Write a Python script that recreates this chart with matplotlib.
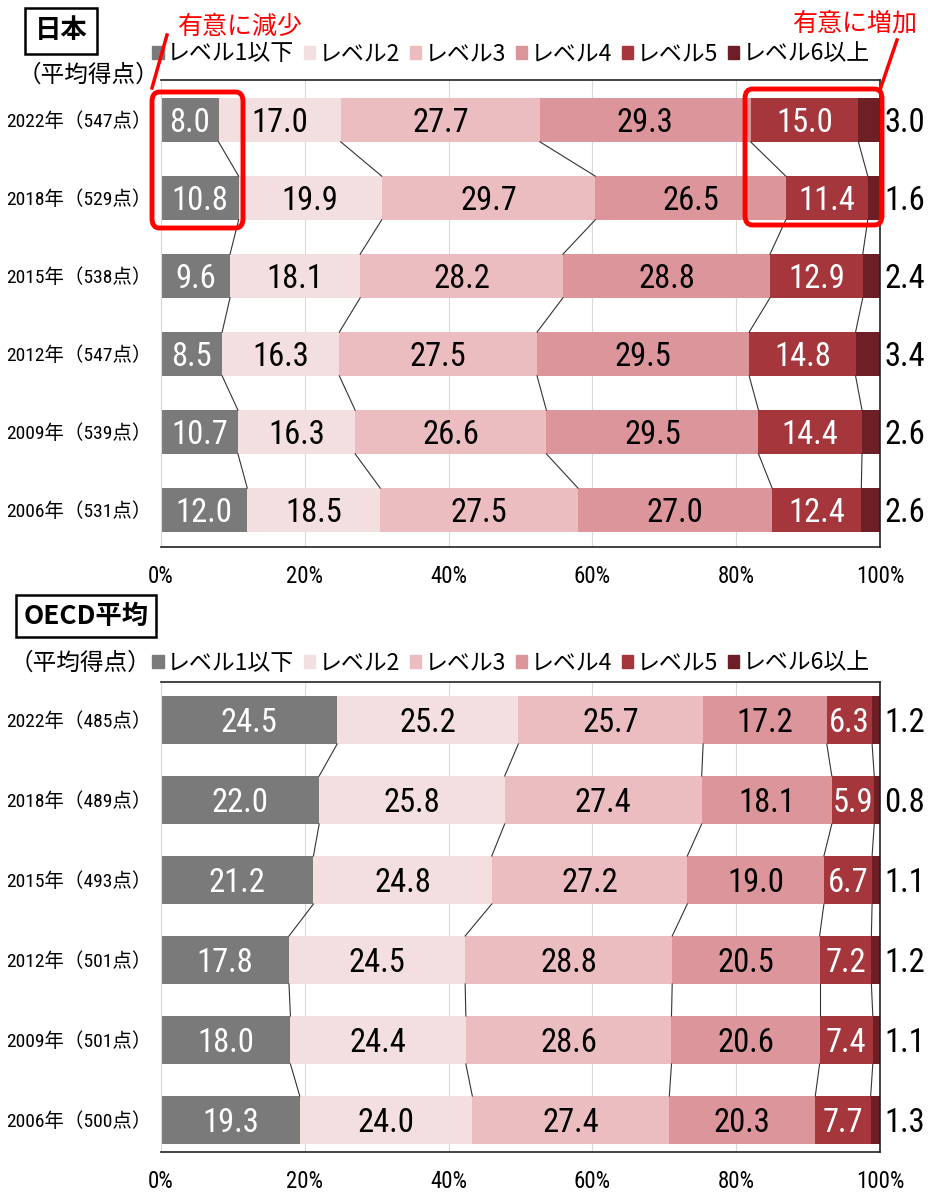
import matplotlib
matplotlib.use("Agg")
import matplotlib.pyplot as plt
from matplotlib.patches import FancyBboxPatch, Rectangle
from matplotlib.lines import Line2D

plt.rcParams['font.family'] = ['Noto Sans CJK JP', 'DejaVu Sans']
NUMFONT = ['Roboto Condensed', 'Archivo Narrow', 'Noto Sans CJK JP']
LABFONT = ['Roboto Condensed', 'Noto Sans CJK JP']

levels = ["レベル1以下", "レベル2", "レベル3", "レベル4", "レベル5", "レベル6以上"]
years = ["2022", "2018", "2015", "2012", "2009", "2006"]
jp_scores = [547, 529, 538, 547, 539, 531]
oecd_scores = [485, 489, 493, 501, 501, 500]

jp_lv1 = [8.0, 10.8, 9.6, 8.5, 10.7, 12.0]
jp_lv2 = [17.0, 19.9, 18.1, 16.3, 16.3, 18.5]
jp_lv3 = [27.7, 29.7, 28.2, 27.5, 26.6, 27.5]
jp_lv4 = [29.3, 26.5, 28.8, 29.5, 29.5, 27.0]
jp_lv5 = [15.0, 11.4, 12.9, 14.8, 14.4, 12.4]
jp_lv6 = [3.0, 1.6, 2.4, 3.4, 2.6, 2.6]

oe_lv1 = [24.5, 22.0, 21.2, 17.8, 18.0, 19.3]
oe_lv2 = [25.2, 25.8, 24.8, 24.5, 24.4, 24.0]
oe_lv3 = [25.7, 27.4, 27.2, 28.8, 28.6, 27.4]
oe_lv4 = [17.2, 18.1, 19.0, 20.5, 20.6, 20.3]
oe_lv5 = [6.3, 5.9, 6.7, 7.2, 7.4, 7.7]
oe_lv6 = [1.2, 0.8, 1.1, 1.2, 1.1, 1.3]

colors = ["#7a7a7a", "#f4dfe0", "#ecbdc0", "#dc959a", "#a5373c", "#6e1f25"]
txtcolors = ["white", "black", "black", "black", "white", None]

W, H = 929, 1196
fig = plt.figure(figsize=(W / 100, H / 100), dpi=100)


def px_axes(x0, y0, x1, y1):
    return fig.add_axes([x0 / W, 1 - y1 / H, (x1 - x0) / W, (y1 - y0) / H])


def draw_panel(ax, series, scores, height, ylim, leg_y):
    n = len(years)
    ypos = list(range(n))
    lefts = [0.0] * n
    bounds = []
    for k, vals in enumerate(series):
        ax.barh(ypos, vals, left=lefts, height=height, color=colors[k],
                edgecolor='none', zorder=2, label=levels[k])
        for i, v in enumerate(vals):
            if k < 5:
                ax.text(lefts[i] + v / 2, ypos[i], f"{v:.1f}", ha='center', va='center_baseline',
                        fontsize=23.5, color=txtcolors[k], family=NUMFONT, zorder=4)
            else:
                ax.text(100.6, ypos[i], f"{v:.1f}", ha='left', va='center_baseline',
                        fontsize=23.5, color='black', family=NUMFONT, clip_on=False, zorder=4)
        lefts = [l + v for l, v in zip(lefts, vals)]
        if k < 5:
            bounds.append(list(lefts))
    # connector lines
    for b in bounds:
        for i in range(n - 1):
            ax.plot([b[i], b[i + 1]], [ypos[i] + height / 2, ypos[i + 1] - height / 2],
                    color='#333333', lw=0.8, zorder=3)
    ax.set_xlim(0, 100)
    ax.set_ylim(*ylim)
    ax.set_xticks([0, 20, 40, 60, 80, 100])
    ax.set_xticklabels(["0%", "20%", "40%", "60%", "80%", "100%"], family=NUMFONT, fontsize=16.5)
    ax.tick_params(axis='x', length=0, pad=13)
    ax.set_yticks(ypos)
    ax.set_yticklabels([f"{y}年（{s}点）" for y, s in zip(years, scores)], fontsize=14,
                       family=LABFONT)
    ax.tick_params(axis='y', length=0, pad=7)
    ax.grid(axis='x', color='#d9d9d9', lw=0.8, zorder=0)
    ax.set_axisbelow(True)
    for s in ['top', 'bottom', 'right']:
        ax.spines[s].set_color('#222222')
        ax.spines[s].set_linewidth(1.2)
    ax.spines['left'].set_color('#d9d9d9')
    ax.spines['left'].set_linewidth(0.8)
    handles = [Rectangle((0, 0), 1, 1, color=c) for c in colors]
    ax.legend(handles, levels, ncol=6, loc='center left', bbox_to_anchor=(-0.012, leg_y),
              frameon=False, handlelength=0.5, handleheight=0.5, handletextpad=0.15,
              columnspacing=0.42, borderaxespad=0.0, fontsize=16.5, borderpad=0.0)


ax1 = px_axes(161, 80, 880, 547)
draw_panel(ax1, [jp_lv1, jp_lv2, jp_lv3, jp_lv4, jp_lv5, jp_lv6], jp_scores, 0.56,
           (5 + 37 / 78, -40 / 78), 1 + 26 / 467)
ax2 = px_axes(161, 682, 880, 1152)
draw_panel(ax2, [oe_lv1, oe_lv2, oe_lv3, oe_lv4, oe_lv5, oe_lv6], oecd_scores, 0.6,
           (5 + 32 / 80, -38 / 80), 1 + 19 / 470)


def fx(x):
    return x / W


def fy(y):
    return 1 - y / H


# Title boxes
fig.text(fx(61), fy(31), "日本", fontsize=19, fontweight='bold', ha='center', va='center',
         bbox=dict(boxstyle='square,pad=0.35', fc='white', ec='black', lw=1.8))
fig.text(fx(86), fy(616), "OECD平均", fontsize=19, fontweight='bold', ha='center', va='center',
         bbox=dict(boxstyle='square,pad=0.3', fc='white', ec='black', lw=1.8))
fig.text(fx(88), fy(75), "（平均得点）", fontsize=17, ha='center', va='center')
fig.text(fx(80), fy(663), "（平均得点）", fontsize=17, ha='center', va='center')

# Red annotations
red = '#ff0000'
fig.text(fx(240), fy(27), "有意に減少", fontsize=18, color=red, ha='center', va='center')
fig.text(fx(855), fy(24), "有意に増加", fontsize=18, color=red, ha='center', va='center')
for (x0, y0, x1, y1) in [(152, 92, 243, 228), (745, 89, 882, 225)]:
    fig.patches.append(FancyBboxPatch((fx(x0), fy(y1)), fx(x1 - x0), (y1 - y0) / H,
                                      boxstyle='round,pad=0,rounding_size=0.008',
                                      transform=fig.transFigure, fc='none', ec=red, lw=3.5,
                                      zorder=10))
fig.add_artist(Line2D([fx(152), fx(167)], [fy(88), fy(35)], color=red, lw=2.5,
                      transform=fig.transFigure))
fig.add_artist(Line2D([fx(880), fx(897)], [fy(90), fy(40)], color=red, lw=2.5,
                      transform=fig.transFigure))

fig.savefig("out.png", dpi=100, facecolor='white')
